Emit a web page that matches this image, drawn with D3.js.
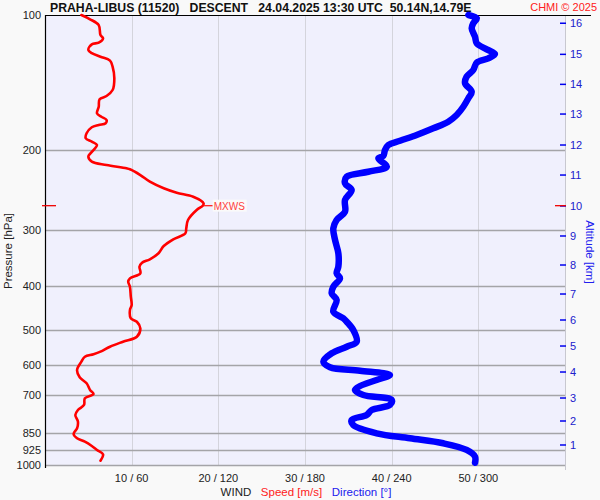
<!DOCTYPE html>
<html><head><meta charset="utf-8">
<script src="https://cdn.jsdelivr.net/npm/d3@7"></script>
<style>
html,body{margin:0;padding:0;background:#f9f9f9;}
svg{display:block;font-family:"Liberation Sans",Arial,sans-serif;}
</style></head>
<body>
<svg id="chart" width="600" height="500"></svg>
<script>
// ---- data ----
const titleText = "PRAHA-LIBUS (11520)   DESCENT   24.04.2025 13:30 UTC  50.14N,14.79E";
const pressureTicks = [100, 200, 300, 400, 500, 600, 700, 850, 925, 1000];
const windSpeedTicks = [10, 20, 30, 40, 50];
const windTickLabels = ["10 / 60", "20 / 120", "30 / 180", "40 / 240", "50 / 300"];
const altitudeKm = [1,2,3,4,5,6,7,8,9,10,11,12,13,14,15,16];
const altitudePressure = [902.7, 798.4, 709.8, 621.4, 544.0, 476.2, 416.9, 359.4, 309.8, 265.7, 226.8, 194.5, 166.0, 142.6, 122.3, 104.3];

const speedPressure = [100,102.2,105.3,110.8,112.7,115.2,116.2,119.6,121.6,123.8,126.3,130.3,138.3,146.8,151.4,153.9,159.9,165.4,168.3,171.1,174.0,175.6,177.6,183.2,187.9,191.2,194.5,199.5,206.5,211.8,215.4,219.1,220.2,226.8,234.7,242.7,248.3,253.4,262.1,265.3,271.2,285.5,297.9,305.6,315.1,326.1,338.5,349.0,355.2,362.5,375.0,384.7,391.5,401.6,422.7,441.0,452.5,472.1,480.4,496.9,518.7,532.1,545.9,560.0,567.5,574.6,589.4,615.0,638.4,658.4,681.3,695.4,710.9,735.6,754.7,774.3,801.3,828.8,853.3,872.3,887.6,907.4,926.0,946.6,978.2];
const speedValues = [4.2,5.2,6.2,6.4,6.7,6.2,5.4,5.0,5.4,6.4,7.5,7.8,8.0,7.8,7.1,6.3,6.2,6.0,6.5,7.1,7.0,6.2,5.4,4.8,4.7,5.4,6.0,5.6,5.0,5.4,7.1,9.4,9.8,11.0,12.1,13.7,15.2,17.1,18.3,18.2,17.5,16.5,16.3,16.2,14.8,13.7,13.1,12.1,11.2,10.9,11.0,9.8,9.6,9.8,9.9,10.0,9.8,9.9,10.6,11.0,10.6,9.0,7.5,6.4,5.6,4.6,4.2,3.7,4.0,4.8,5.2,5.6,4.6,4.5,3.8,3.5,3.8,3.7,3.3,3.7,4.6,5.4,6.0,6.7,6.4];

const dirPressure = [100,101.7,104.3,107.1,111.8,115.6,119.2,122.1,124.8,127.6,132.5,137.1,141.8,148.1,153.1,159.9,166.8,172.6,178.6,184.8,190.3,194.5,199.5,205.7,208.2,217.3,223.0,228.7,236.6,244.8,257.7,273.6,285.5,297.9,316.2,338.5,362.5,375.0,384.7,401.6,415.4,429.9,456.4,472.1,480.4,501.2,532.1,545.9,564.6,589.4,606.6,617.2,631.0,647.3,667.6,681.3,698.9,717.1,735.6,754.7,774.3,794.3,814.9,850.3,872.3,894.9,926.0,958.3,988.3];
const dirValues = [293.1,298.9,296.5,295.4,297.7,298.9,305.8,311.5,306.9,298.9,296.5,291.9,290.8,295.4,293.1,289.6,285.0,279.2,268.8,257.3,245.8,237.7,235.4,234.2,230.8,236.6,223.8,208.9,207.7,212.3,207.7,207.7,201.9,199.6,200.8,203.1,203.1,201.9,204.2,199.6,198.5,201.9,199.6,206.5,208.9,213.4,215.8,208.9,198.5,192.7,197.3,218.1,238.8,229.6,218.1,214.6,220.4,240.0,238.8,226.2,222.7,212.3,213.4,229.6,252.7,275.7,291.9,297.7,297.7];

const mxwsPressure = 265.3;
const mxwsSpeed = 18.2;

// ---- chart ----
const svg = d3.select("#chart");
const pLeft = 45, pRight = 565, pTop = 15, pBottom = 465;
const y = d3.scaleLog().domain([100, 1000]).range([pTop, pBottom]);
const xs = d3.scaleLinear().domain([0, 60]).range([pLeft, pRight]);
const xd = d3.scaleLinear().domain([0, 360]).range([pLeft, pRight]);

svg.append("rect").attr("width", 600).attr("height", 500).attr("fill", "#f9f9f9");
svg.append("rect").attr("x", pLeft).attr("y", pTop).attr("width", pRight - pLeft).attr("height", pBottom - pTop).attr("fill", "#f0f0fd");

// vertical grid
svg.append("g").selectAll("line").data(windSpeedTicks).join("line")
  .attr("x1", d => Math.round(xs(d)) + 0.5).attr("x2", d => Math.round(xs(d)) + 0.5).attr("y1", pTop).attr("y2", pBottom)
  .attr("stroke", "#d4d4dc").attr("stroke-width", 1);
// right boundary
svg.append("line").attr("x1", pRight + 0.5).attr("x2", pRight + 0.5).attr("y1", pTop).attr("y2", 470)
  .attr("stroke", "#c8c8d0").attr("stroke-width", 1);

// horizontal grid
svg.append("g").selectAll("line").data(pressureTicks.filter(d => d > 100)).join("line")
  .attr("x1", pLeft).attr("x2", pRight).attr("y1", d => Math.round(y(d)) + 0.5).attr("y2", d => Math.round(y(d)) + 0.5)
  .attr("stroke", "#a4a4a8").attr("stroke-width", 1.3);

// left axis labels
svg.append("g").selectAll("text").data(pressureTicks).join("text")
  .attr("x", 41).attr("y", d => y(d) + 4).attr("text-anchor", "end")
  .attr("font-size", 11).attr("fill", "#222").text(d => d);

// borders
svg.append("line").attr("x1", 45).attr("x2", 591).attr("y1", pTop + 0.5).attr("y2", pTop + 0.5).attr("stroke", "#000").attr("stroke-width", 1.2);
svg.append("line").attr("x1", pLeft + 0.5).attr("x2", pLeft + 0.5).attr("y1", pTop).attr("y2", 468).attr("stroke", "#000").attr("stroke-width", 1.2);

// right altitude axis
svg.append("g").selectAll("line").data(altitudePressure).join("line")
  .attr("x1", 560).attr("x2", 566).attr("y1", d => y(d)).attr("y2", d => y(d))
  .attr("stroke", "#0000ee").attr("stroke-width", 1.5);
svg.append("g").selectAll("text").data(altitudeKm).join("text")
  .attr("x", 570).attr("y", (d, i) => y(altitudePressure[i]) + 4)
  .attr("font-size", 11).attr("fill", "#2020cc").text(d => d);

// bottom labels
svg.append("g").selectAll("text").data(windSpeedTicks).join("text")
  .attr("x", d => xs(d)).attr("y", 482).attr("text-anchor", "middle")
  .attr("font-size", 11).attr("fill", "#222").text((d, i) => windTickLabels[i]);

const lab = svg.append("text").attr("x", 306).attr("y", 496).attr("text-anchor", "middle").attr("font-size", 11.5).style("white-space", "pre");
lab.append("tspan").attr("fill", "#222").text("WIND   ");
lab.append("tspan").attr("fill", "#ff2020").text("Speed [m/s]   ");
lab.append("tspan").attr("fill", "#2020ee").text("Direction [°]");

svg.append("text").attr("transform", "translate(12,251) rotate(-90)").attr("text-anchor", "middle")
  .attr("font-size", 11.5).attr("fill", "#222").text("Pressure [hPa]");
svg.append("text").attr("transform", "translate(586,252) rotate(90)").attr("text-anchor", "middle")
  .attr("font-size", 11.5).attr("fill", "#2020ee").text("Altitude [km]");

// title
svg.append("text").attr("x", 50).attr("y", 12).attr("font-size", 12.25).attr("font-weight", "bold")
  .attr("fill", "#111").style("white-space", "pre").text(titleText);
svg.append("text").attr("x", 597).attr("y", 11).attr("text-anchor", "end").attr("font-size", 11)
  .attr("fill", "#ff2020").text("CHMI © 2025");

// lines
const dirLine = d3.line().x((d, i) => xd(dirValues[i])).y(d => y(d)).curve(d3.curveCatmullRom);
svg.append("path").attr("d", dirLine(dirPressure)).attr("fill", "none").attr("stroke", "#0000ff")
  .attr("stroke-width", 6.5).attr("stroke-linejoin", "round").attr("stroke-linecap", "round");

const spdLine = d3.line().x((d, i) => xs(speedValues[i])).y(d => y(d)).curve(d3.curveCatmullRom);
svg.append("path").attr("d", spdLine(speedPressure)).attr("fill", "none").attr("stroke", "#ff0000")
  .attr("stroke-width", 2.6).attr("stroke-linejoin", "round").attr("stroke-linecap", "round");

// MXWS markers
const my = y(mxwsPressure);
svg.append("line").attr("x1", 42).attr("x2", 56).attr("y1", my).attr("y2", my).attr("stroke", "#ee0000").attr("stroke-width", 1.3);
svg.append("line").attr("x1", 555).attr("x2", 566).attr("y1", my).attr("y2", my).attr("stroke", "#ee0000").attr("stroke-width", 1.3);
svg.append("line").attr("x1", xs(mxwsSpeed) + 1).attr("x2", xs(mxwsSpeed) + 10).attr("y1", my).attr("y2", my).attr("stroke", "#ff2020").attr("stroke-width", 1.3);
svg.append("rect").attr("x", xs(mxwsSpeed) + 10).attr("y", my - 6).attr("width", 34).attr("height", 12).attr("fill", "#fafafa");
svg.append("text").attr("x", xs(mxwsSpeed) + 11).attr("y", my + 4).attr("font-size", 10).attr("fill", "#ff4040").text("MXWS");
</script>
</body></html>
